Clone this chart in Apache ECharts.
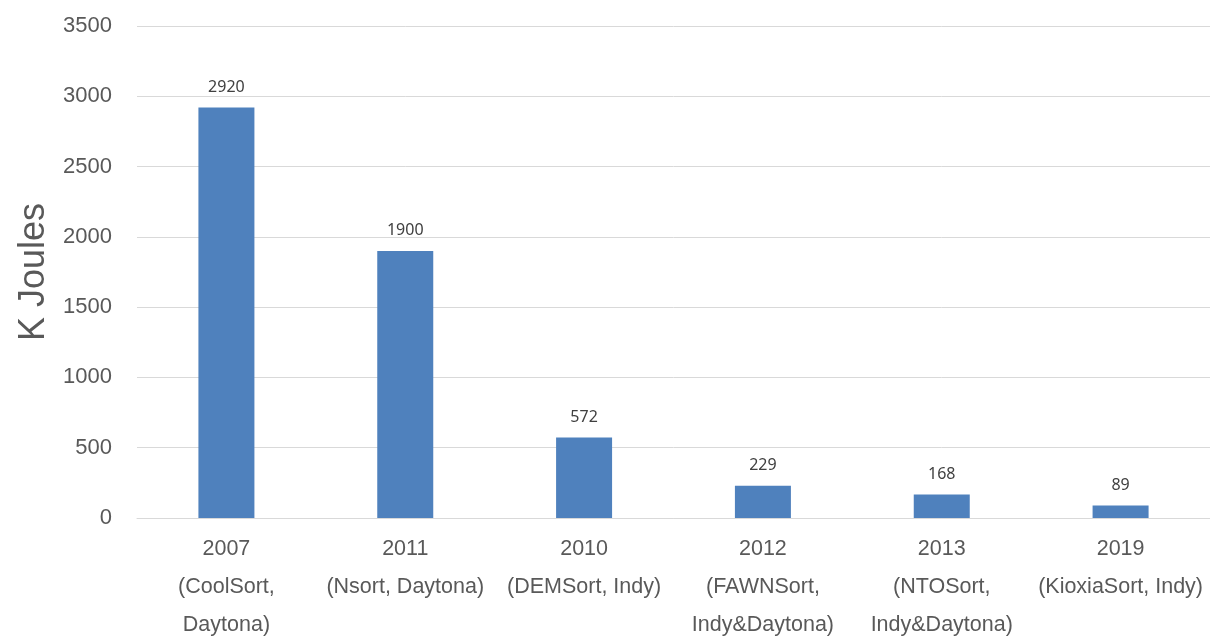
<!DOCTYPE html>
<html><head><meta charset="utf-8">
<script src="https://cdn.jsdelivr.net/npm/echarts@6/dist/echarts.min.js"></script>
<style>html,body{margin:0;padding:0;background:#fff;overflow:hidden}#c{width:1210px;height:644px}</style>
</head><body><div id="c"></div>
<script>
const categories = ["2007\n(CoolSort,\nDaytona)", "2011\n(Nsort, Daytona)", "2010\n(DEMSort, Indy)", "2012\n(FAWNSort,\nIndy&Daytona)", "2013\n(NTOSort,\nIndy&Daytona)", "2019\n(KioxiaSort, Indy)"];
const values = [2920, 1900, 572, 229, 168, 89];
const yTicks = { min: 0, max: 3500, interval: 500 };
const yName = "K Joules";

const chart = echarts.init(document.getElementById('c'));
chart.setOption({
  animation: false,
  grid: { left: 137, top: 26, width: 1080, height: 499, containLabel: false },
  xAxis: {
    type: 'category', data: categories,
    axisLine: { show: true, lineStyle: { color: '#d9d9d9', width: 1 } },
    axisTick: { show: false },
    axisLabel: { interval: 0, color: '#595959', fontFamily: 'Liberation Sans, Arial', fontSize: 21.5, lineHeight: 38, margin: 12 }
  },
  yAxis: {
    type: 'value', min: yTicks.min, max: yTicks.max, interval: yTicks.interval,
    name: yName, nameLocation: 'middle', nameGap: 84, nameRotate: 90,
    nameTextStyle: { color: '#595959', fontFamily: 'Liberation Sans, Arial', fontSize: 36 },
    axisLine: { show: false }, axisTick: { show: false },
    axisLabel: { color: '#595959', fontFamily: 'Liberation Sans, Arial', fontSize: 22, margin: 25, formatter: v => String(v) },
    splitLine: { lineStyle: { color: '#d9d9d9', width: 1 } }
  },
  series: [{
    type: 'bar', data: values, barWidth: 56,
    itemStyle: { color: '#4f81bd' },
    label: { show: true, position: 'top', distance: 12, color: '#404040', fontFamily: 'Noto Sans, DejaVu Sans', fontSize: 16 }
  }]
});
</script></body></html>
